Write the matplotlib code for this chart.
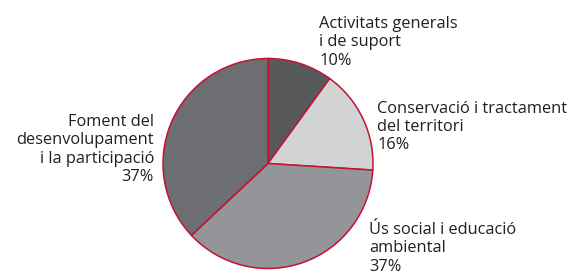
import matplotlib
matplotlib.use("Agg")
import matplotlib.pyplot as plt

categories = ["Activitats generals\ni de suport",
              "Conservació i tractament\ndel territori",
              "Ús social i educació\nambiental",
              "Foment del\ndesenvolupament\ni la participació"]
values = [10, 16, 37, 37]
colors = ["#58595b", "#d1d3d4", "#939598", "#6d6e71"]

plt.rcParams['font.family'] = ['Open Sans', 'DejaVu Sans']

W, H = 576, 275
fig = plt.figure(figsize=(W / 100, H / 100), dpi=100)
ax = fig.add_axes([0, 0, 1, 1])
ax.set_xlim(0, W)
ax.set_ylim(0, H)
ax.axis('off')

cx, cy, r = 268, 163.5, 105
ax.pie(values, colors=colors, startangle=90, counterclock=False,
       center=(cx, H - cy), radius=r,
       wedgeprops=dict(edgecolor="#c4122f", linewidth=1.1))
ax.set_xlim(0, W)
ax.set_ylim(0, H)
ax.set_aspect('auto')

fs = 11.8
# (x, y_center_pixel, ha)
pos = [(319, 42.5, 'left'), (377, 127, 'left'), (369, 248.5, 'left'), (154, 149.5, 'right')]
for (x, y, ha), cat, v in zip(pos, categories, values):
    ax.text(x, H - y, f"{cat}\n{v}%", ha=ha, va='center', fontsize=fs,
            color="#231f20", linespacing=1.17, multialignment=ha)

fig.savefig("out.png", dpi=100)
